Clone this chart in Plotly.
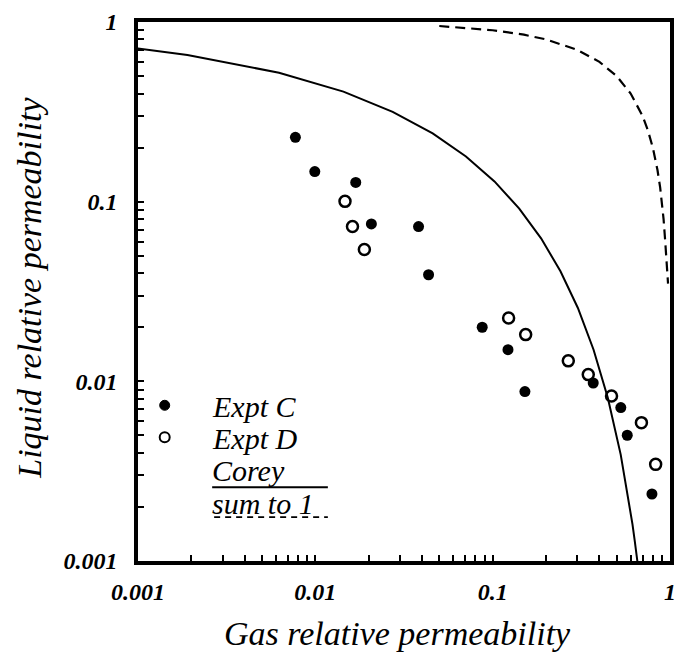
import plotly.graph_objects as go

# ---------------- data ----------------
exptC_krg = [0.00772, 0.00993, 0.0169, 0.0207, 0.0382, 0.0435, 0.0873, 0.122,
             0.152, 0.369, 0.528, 0.574, 0.791]
exptC_krl = [0.228, 0.147, 0.128, 0.0752, 0.0727, 0.0392, 0.0200, 0.0150,
             0.00877, 0.00979, 0.00714, 0.00501, 0.00236]

exptD_krg = [0.0147, 0.0162, 0.0189, 0.123, 0.1535, 0.267, 0.346, 0.468, 0.690, 0.830]
exptD_krl = [0.1004, 0.0727, 0.0541, 0.0225, 0.0182, 0.0130, 0.0109, 0.00829,
             0.00589, 0.00345]

corey_krg = [0.000812, 0.0019, 0.00624, 0.0144, 0.0273, 0.0459, 0.0707, 0.1024,
             0.1412, 0.1875, 0.2412, 0.3024, 0.3707, 0.4459, 0.5273, 0.579,
             0.6144, 0.6324, 0.654, 0.6598]
corey_krl = [0.732, 0.656, 0.522, 0.410, 0.316, 0.240, 0.1785, 0.1296,
             0.0915, 0.0625, 0.0410, 0.0256, 0.0150, 0.0081, 0.00391, 0.00234,
             0.0016, 0.0013, 0.0010, 0.000938]

sum1_krg = [0.05, 0.1, 0.15, 0.2, 0.3, 0.4, 0.5, 0.6, 0.7, 0.75, 0.8,
            0.85, 0.88, 0.9, 0.92, 0.94, 0.96, 0.975]
sum1_krl = [0.95, 0.9, 0.85, 0.8, 0.7, 0.6, 0.5, 0.4, 0.3, 0.25, 0.2,
            0.15, 0.12, 0.1, 0.08, 0.06, 0.045, 0.035]

decades = [0.001, 0.01, 0.1]
decade_labels = {0.001: "0.001", 0.01: "0.01", 0.1: "0.1", 1: "1"}
x_title = "Gas relative permeability"
y_title = "Liquid relative permeability"
legend_labels = ["Expt C", "Expt D", "Corey", "sum to 1"]

# ---------------- tick setup ----------------
tickvals = []
ticktext = []
for d in decades:
    for m in range(1, 10):
        tickvals.append(m * d)
        ticktext.append(decade_labels[d] if m == 1 else "")
tickvals.append(1)
ticktext.append(decade_labels[1])

FONT = "Liberation Serif"

fig = go.Figure()
fig.add_trace(go.Scatter(x=corey_krg, y=corey_krl, mode="lines",
                         line=dict(color="black", width=2), showlegend=False))
fig.add_trace(go.Scatter(x=sum1_krg, y=sum1_krl, mode="lines",
                         line=dict(color="black", width=2.2, dash="10px,6px"),
                         showlegend=False))
fig.add_trace(go.Scatter(x=exptC_krg, y=exptC_krl, mode="markers",
                         marker=dict(symbol="circle", size=11, color="black"),
                         showlegend=False))
fig.add_trace(go.Scatter(x=exptD_krg, y=exptD_krl, mode="markers",
                         marker=dict(symbol="circle-open", size=11, color="black",
                                     line=dict(width=2.5)),
                         showlegend=False))

axis_common = dict(
    type="log", showgrid=False, zeroline=False,
    showline=True, linecolor="black", linewidth=3.5, mirror=True,
    ticks="inside", ticklen=6, tickwidth=1.5, tickcolor="black",
    tickmode="array", tickvals=tickvals, ticktext=ticktext,
    tickfont=dict(family=FONT, size=24, color="black", style="italic", weight="bold"),
)
fig.update_xaxes(range=[-3, 0], ticklabelstandoff=6, **axis_common)
fig.update_yaxes(range=[-3, 0], ticklabelstandoff=12, **axis_common)

L, R, T, B = 138, 9, 21, 94
W, H = 685, 655
pw, ph = W - L - R, H - T - B


def px(x):
    return (x - L) / pw


def py(y):
    return (H - B - y) / ph


annotations = [
    dict(text=x_title, x=px(400), y=py(634), xref="paper", yref="paper",
         showarrow=False, xanchor="center", yanchor="middle",
         font=dict(family=FONT, size=34, style="italic", color="black")),
    dict(text=y_title, x=px(28), y=py(287), xref="paper", yref="paper",
         showarrow=False, xanchor="center", yanchor="middle", textangle=-90,
         font=dict(family=FONT, size=34, style="italic", color="black")),
]
leg_font = dict(family=FONT, size=30, style="italic", color="black")
for lab, yy in zip(legend_labels, [406, 438, 470, 503]):
    annotations.append(dict(text=lab, x=px(211), y=py(yy), xref="paper", yref="paper",
                            showarrow=False, xanchor="left", yanchor="middle",
                            font=leg_font))

shapes = [
    dict(type="circle", xref="paper", yref="paper", xsizemode="pixel", ysizemode="pixel",
         xanchor=px(165), yanchor=py(405), x0=-5, x1=5, y0=-5, y1=5,
         fillcolor="black", line=dict(color="black", width=1)),
    dict(type="circle", xref="paper", yref="paper", xsizemode="pixel", ysizemode="pixel",
         xanchor=px(165), yanchor=py(437), x0=-5, x1=5, y0=-5, y1=5,
         fillcolor="white", line=dict(color="black", width=2)),
    dict(type="line", xref="paper", yref="paper", x0=px(213), x1=px(330),
         y0=py(487), y1=py(487), line=dict(color="black", width=2)),
    dict(type="line", xref="paper", yref="paper", x0=px(215), x1=px(330),
         y0=py(517), y1=py(517), line=dict(color="black", width=1.8, dash="6px,5px")),
]

fig.update_layout(
    width=W, height=H,
    margin=dict(l=L, r=R, t=T, b=B, pad=0),
    paper_bgcolor="white", plot_bgcolor="white",
    showlegend=False,
    annotations=annotations, shapes=shapes,
)

fig.write_html("out.html")
